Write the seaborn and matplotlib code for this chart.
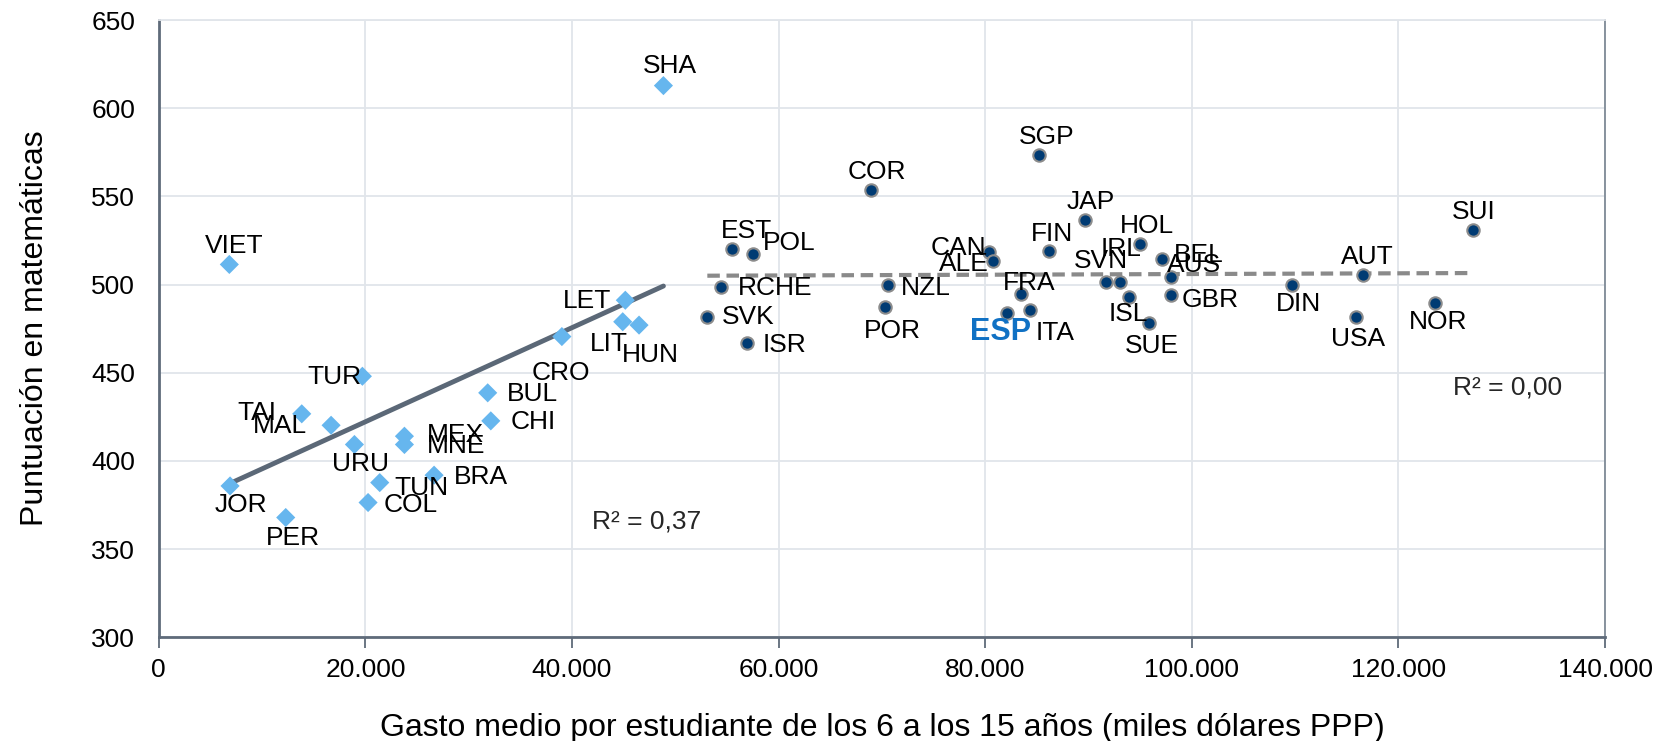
import numpy as np
import pandas as pd
import seaborn as sns
import matplotlib.pyplot as plt
from matplotlib.ticker import FuncFormatter, MultipleLocator

# --- data: spending per student (USD PPP) vs PISA maths score ---
low_names = ["VIET", "SHA", "TUR", "TAI", "MAL", "URU", "MEX", "MNE", "BRA", "TUN",
             "COL", "JOR", "PER", "BUL", "CHI", "CRO", "LET", "LIT", "HUN"]
low_gasto = [6830, 48850, 19710, 13840, 16680, 18940, 23780, 23780, 26650, 21390,
             20260, 6900, 12290, 31840, 32140, 39020, 45160, 44910, 46490]
low_mat = [511.4, 612.8, 448.0, 426.7, 420.2, 409.3, 414.0, 409.3, 391.9, 387.7,
           376.4, 385.8, 367.9, 438.6, 422.7, 470.5, 491.1, 478.9, 477.0]

high_names = ["EST", "POL", "RCHE", "SVK", "ISR", "COR", "SGP", "JAP", "CAN", "ALE",
              "FIN", "HOL", "BEL", "AUS", "SVN", "IRL", "NZL", "FRA", "POR", "ESP",
              "ITA", "ISL", "SUE", "GBR", "SUI", "AUT", "DIN", "USA", "NOR"]
high_gasto = [55460, 57550, 54400, 53100, 56910, 68940, 85240, 89690, 80400, 80720,
              86180, 95020, 97080, 97950, 91700, 93050, 70620, 83460, 70300, 82110,
              84330, 93950, 95820, 97990, 127250, 116540, 109700, 115900, 123570]
high_mat = [520.1, 517.4, 498.7, 481.7, 466.6, 553.6, 573.3, 536.4, 518.6, 513.5,
            518.8, 522.8, 514.6, 504.2, 501.2, 501.2, 499.7, 494.7, 487.2, 484.0,
            485.3, 493.1, 478.1, 493.9, 530.7, 505.2, 499.9, 481.4, 489.3]

low = pd.DataFrame({"pais": low_names, "gasto": low_gasto, "mat": low_mat})
high = pd.DataFrame({"pais": high_names, "gasto": high_gasto, "mat": high_mat})

# label offsets (pixels in the reference, dy downwards)
offsets = {
    "VIET": (5, -17), "SHA": (6, -19), "TUR": (-26, 1), "TAI": (-42, -1), "MAL": (-48, 1),
    "URU": (6, 18), "MEX": (48, -1), "MNE": (49, 1), "BRA": (44, 2), "TUN": (39, 5),
    "COL": (40, 2), "JOR": (10, 18), "PER": (7, 19), "BUL": (42, 1), "CHI": (40, 1),
    "CRO": (-1, 34), "LET": (-36, 1), "LIT": (-13, 21), "HUN": (11, 28),
    "EST": (14, -17), "POL": (34, -10), "RCHE": (51, 1), "SVK": (39, 0), "ISR": (36, 1),
    "COR": (6, -17), "SGP": (7, -17), "JAP": (5, -17), "CAN": (-29, -4), "ALE": (-27, 3),
    "FIN": (3, -16), "HOL": (6, -17), "BEL": (35, -4), "AUS": (22, -11), "SVN": (-5, -20),
    "IRL": (1, -32), "NZL": (35, 3), "FRA": (8, -10), "POR": (7, 23), "ESP": (-6, 18),
    "ITA": (24, 21), "ISL": (-1, 16), "SUE": (3, 22), "GBR": (37, 4), "SUI": (0, -17),
    "AUT": (4, -17), "DIN": (6, 18), "USA": (2, 20), "NOR": (3, 18),
}

sns.set_style("white")
plt.rcParams["font.family"] = ["Liberation Sans", "DejaVu Sans"]

fig = plt.figure(figsize=(16.59, 7.41), dpi=100)
ax = fig.add_axes([0.0957, 0.140, 0.8718, 0.833])

light_blue = "#66b6ee"
navy = "#003b73"

sns.regplot(data=low, x="gasto", y="mat", scatter=False, ci=None, ax=ax,
            line_kws=dict(color="#5b6877", lw=3.5, solid_capstyle="round", zorder=2))
sns.regplot(data=high, x="gasto", y="mat", scatter=False, ci=None, ax=ax,
            line_kws=dict(color="#8a8a8a", lw=3, ls=(0, (3, 1.6)), zorder=2))

sns.scatterplot(data=low, x="gasto", y="mat", marker="D", s=95, color=light_blue,
                edgecolor="none", ax=ax, zorder=3)
sns.scatterplot(data=high, x="gasto", y="mat", marker="o", s=80, color=navy,
                edgecolor="#8c8c8c", linewidth=1.5, ax=ax, zorder=3)

k = 0.762  # reference px -> points
for df in (low, high):
    for _, r in df.iterrows():
        dx, dy = offsets[r["pais"]]
        if r["pais"] == "ESP":
            ax.annotate("ESP", (r["gasto"], r["mat"]), xytext=(dx * k, -dy * k),
                        textcoords="offset points", ha="center", va="center",
                        fontsize=22, fontweight="bold", color="#1071c4", zorder=4)
        else:
            ax.annotate(r["pais"], (r["gasto"], r["mat"]), xytext=(dx * k, -dy * k),
                        textcoords="offset points", ha="center", va="center",
                        fontsize=19, color="black", zorder=4)

ax.text(47200, 365.5, "R² = 0,37", fontsize=19, ha="center", va="center")
ax.text(130600, 441.5, "R² = 0,00", fontsize=19, ha="center", va="center")

ax.set_xlim(0, 140000)
ax.set_ylim(300, 650)
ax.xaxis.set_major_locator(MultipleLocator(20000))
ax.yaxis.set_major_locator(MultipleLocator(50))
ax.xaxis.set_major_formatter(FuncFormatter(lambda v, p: f"{int(v):,}".replace(",", ".")))
ax.grid(True, color="#e1e5ea", lw=1.3)
ax.set_axisbelow(True)

for s in ("left", "bottom"):
    ax.spines[s].set_color("#5f6b7a")
    ax.spines[s].set_linewidth(2)
ax.spines["right"].set_color("#7f8a96")
ax.spines["right"].set_linewidth(1.3)
ax.spines["top"].set_color("#e1e5ea")
ax.spines["top"].set_linewidth(1.3)

ax.tick_params(axis="x", which="major", direction="out", length=8, width=1.3,
               color="#5f6b7a", labelsize=19, pad=7, bottom=True, labelcolor="black")
ax.tick_params(axis="y", which="major", length=0, labelsize=19, pad=17, labelcolor="black")

ax.set_xlabel("Gasto medio por estudiante de los 6 a los 15 años (miles dólares PPP)",
              fontsize=23, labelpad=22, color="black")
ax.set_ylabel("Puntuación en matemáticas", fontsize=23, labelpad=30, color="black")

fig.savefig("out.png", dpi=100)
